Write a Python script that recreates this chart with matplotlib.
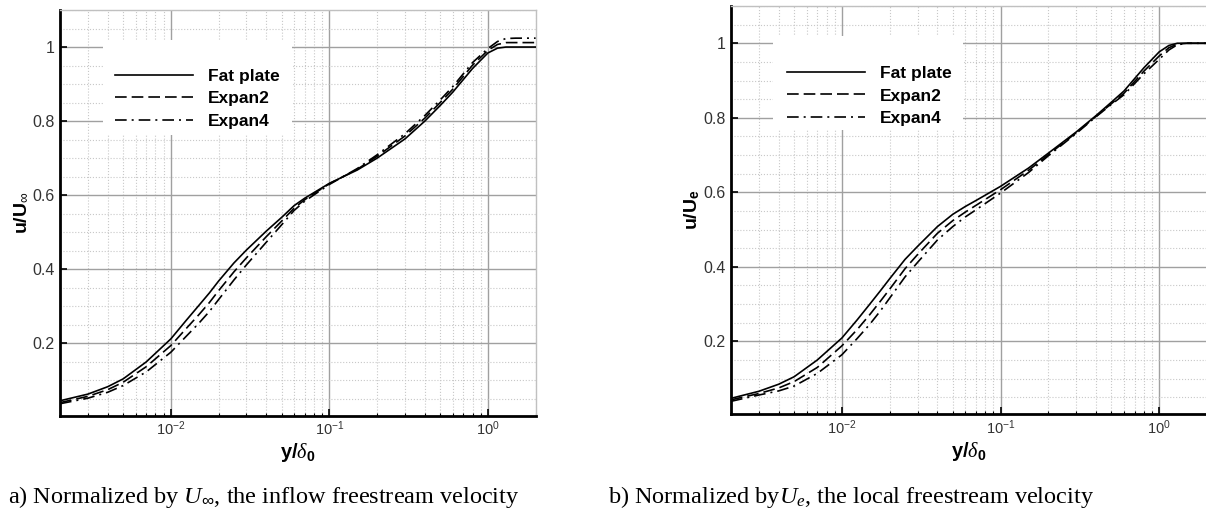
import numpy as np
import matplotlib
matplotlib.use("Agg")
import matplotlib.pyplot as plt
from matplotlib.patches import Rectangle
from matplotlib.ticker import LogLocator, MultipleLocator, NullFormatter, FixedLocator

plt.rcParams['font.family'] = ['Liberation Sans', 'DejaVu Sans']
plt.rcParams['mathtext.fontset'] = 'custom'
plt.rcParams['mathtext.rm'] = 'Liberation Sans'
plt.rcParams['mathtext.bf'] = 'Liberation Sans:bold'
plt.rcParams['mathtext.it'] = 'Liberation Serif:italic'

# y/delta_0 sample positions
y_delta = [0.002, 0.003, 0.004, 0.005, 0.007, 0.01, 0.0125, 0.015, 0.0175, 0.02,
           0.025, 0.03, 0.04, 0.05, 0.06, 0.07, 0.1, 0.15, 0.2, 0.3,
           0.4, 0.5, 0.6, 0.8, 1.0, 1.15, 1.3, 1.5, 2.0]

# a) normalized by U_inf
flat_a = [0.045, 0.063, 0.083, 0.104, 0.150, 0.212, 0.262, 0.302, 0.336, 0.368,
          0.417, 0.452, 0.503, 0.540, 0.572, 0.592, 0.632, 0.668, 0.700, 0.752,
          0.800, 0.842, 0.878, 0.942, 0.984, 0.997, 1.000, 1.000, 1.000]
exp2_a = [0.040, 0.057, 0.075, 0.095, 0.137, 0.194, 0.240, 0.277, 0.310, 0.342,
          0.393, 0.431, 0.488, 0.530, 0.565, 0.588, 0.631, 0.670, 0.705, 0.760,
          0.808, 0.850, 0.886, 0.951, 0.991, 1.007, 1.012, 1.012, 1.012]
exp4_a = [0.037, 0.052, 0.068, 0.086, 0.123, 0.176, 0.219, 0.254, 0.286, 0.318,
          0.371, 0.412, 0.473, 0.520, 0.559, 0.584, 0.629, 0.672, 0.709, 0.766,
          0.815, 0.857, 0.893, 0.958, 0.996, 1.015, 1.023, 1.024, 1.024]

# b) normalized by U_e
flat_b = [0.047, 0.066, 0.085, 0.105, 0.150, 0.209, 0.258, 0.300, 0.336, 0.368,
          0.420, 0.455, 0.508, 0.541, 0.562, 0.578, 0.616, 0.665, 0.705, 0.762,
          0.806, 0.842, 0.872, 0.934, 0.977, 0.994, 1.000, 1.000, 1.000]
exp2_b = [0.043, 0.060, 0.075, 0.092, 0.130, 0.188, 0.232, 0.272, 0.308, 0.340,
          0.395, 0.433, 0.490, 0.524, 0.547, 0.565, 0.607, 0.659, 0.701, 0.760,
          0.804, 0.838, 0.866, 0.925, 0.966, 0.988, 0.998, 1.000, 1.000]
exp4_b = [0.039, 0.056, 0.067, 0.080, 0.114, 0.164, 0.208, 0.246, 0.282, 0.316,
          0.373, 0.412, 0.472, 0.508, 0.534, 0.553, 0.598, 0.653, 0.698, 0.758,
          0.803, 0.836, 0.862, 0.918, 0.957, 0.982, 0.996, 1.000, 1.000]

labels = ['Fat plate', 'Expan2', 'Expan4']
styles = ['-', (0, (7, 3)), (0, (7, 3, 1.2, 3))]

fig = plt.figure(figsize=(12.06, 5.19), dpi=100)
ax_a = fig.add_axes([60 / 1206, 1 - 415.6 / 519, 475.6 / 1206, 405.6 / 519])
ax_b = fig.add_axes([731 / 1206, 1 - 414 / 519, 476 / 1206, 408 / 519])


def style_axis(ax, ylab, box, leg_xy):
    ax.set_xscale('log')
    ax.set_xlim(0.002, 2.0)
    ax.set_ylim(0.005, 1.1)
    ax.yaxis.set_major_locator(FixedLocator([0.2, 0.4, 0.6, 0.8, 1.0]))
    ax.yaxis.set_minor_locator(MultipleLocator(0.05))
    ax.set_yticklabels(['0.2', '0.4', '0.6', '0.8', '1'])
    ax.xaxis.set_major_locator(LogLocator(base=10))
    ax.xaxis.set_minor_locator(LogLocator(base=10, subs=np.arange(2, 10)))
    ax.xaxis.set_minor_formatter(NullFormatter())
    ax.grid(which='major', color='#a0a0a0', lw=1.0, ls='-')
    ax.grid(which='minor', color='#c8c8c8', lw=0.8, ls=':')
    ax.set_axisbelow(True)
    for s in ['top', 'right']:
        ax.spines[s].set_color('#c0c0c0')
        ax.spines[s].set_linewidth(1.0)
    for s in ['left', 'bottom']:
        ax.spines[s].set_color('black')
        ax.spines[s].set_linewidth(2.0)
    ax.tick_params(which='major', direction='in', length=5, width=1.2,
                   color='black', labelcolor='#333333', top=False, right=False)
    ax.tick_params(which='minor', direction='in', length=2.5, width=0.8,
                   color='black', top=False, right=False, left=False)
    ax.tick_params(axis='y', labelsize=11.5, pad=4)
    ax.tick_params(axis='x', labelsize=10.5, pad=3)
    ax.set_xlabel(r'$\mathbf{y/}\delta_{\mathbf{0}}$', fontsize=14.5, labelpad=2)
    ax.set_ylabel(ylab, fontsize=14, labelpad=1)
    # white legend panel
    ax.add_patch(Rectangle((box[0], box[1]), box[2] - box[0], box[3] - box[1],
                           transform=ax.transAxes, facecolor='white',
                           edgecolor='none', zorder=1))
    ax.legend(loc='upper left', bbox_to_anchor=leg_xy, frameon=False,
              prop={'weight': 'bold', 'size': 12.5},
              handlelength=4.5, handletextpad=0.86, labelspacing=0.42,
              borderpad=0, borderaxespad=0)


for ax, data, ylab, box, lxy in [
        (ax_a, [flat_a, exp2_a, exp4_a], r'$\mathbf{u/U}_{\infty}$',
         (0.09, 0.692, 0.488, 0.926), (0.1157, 0.855)),
        (ax_b, [flat_b, exp2_b, exp4_b], r'$\mathbf{u/U}_{\mathbf{e}}$',
         (0.088, 0.696, 0.487, 0.926), (0.117, 0.853))]:
    for vals, lab, ls in zip(data, labels, styles):
        ax.plot(y_delta, vals, color='black', lw=1.2, ls=ls, label=lab, zorder=3)
    style_axis(ax, ylab, box, lxy)

fig.text(8 / 1206, 1 - 497 / 519,
         r'a) Normalized by $\mathit{U}_{\infty}$, the inflow freestream velocity',
         family='Liberation Serif', fontsize=17.5, va='center', ha='left')
fig.text(608 / 1206, 1 - 497 / 519,
         r'b) Normalized by$\mathit{U_{e}}$, the local freestream velocity',
         family='Liberation Serif', fontsize=17.5, va='center', ha='left')

fig.savefig('out.png', dpi=100)
